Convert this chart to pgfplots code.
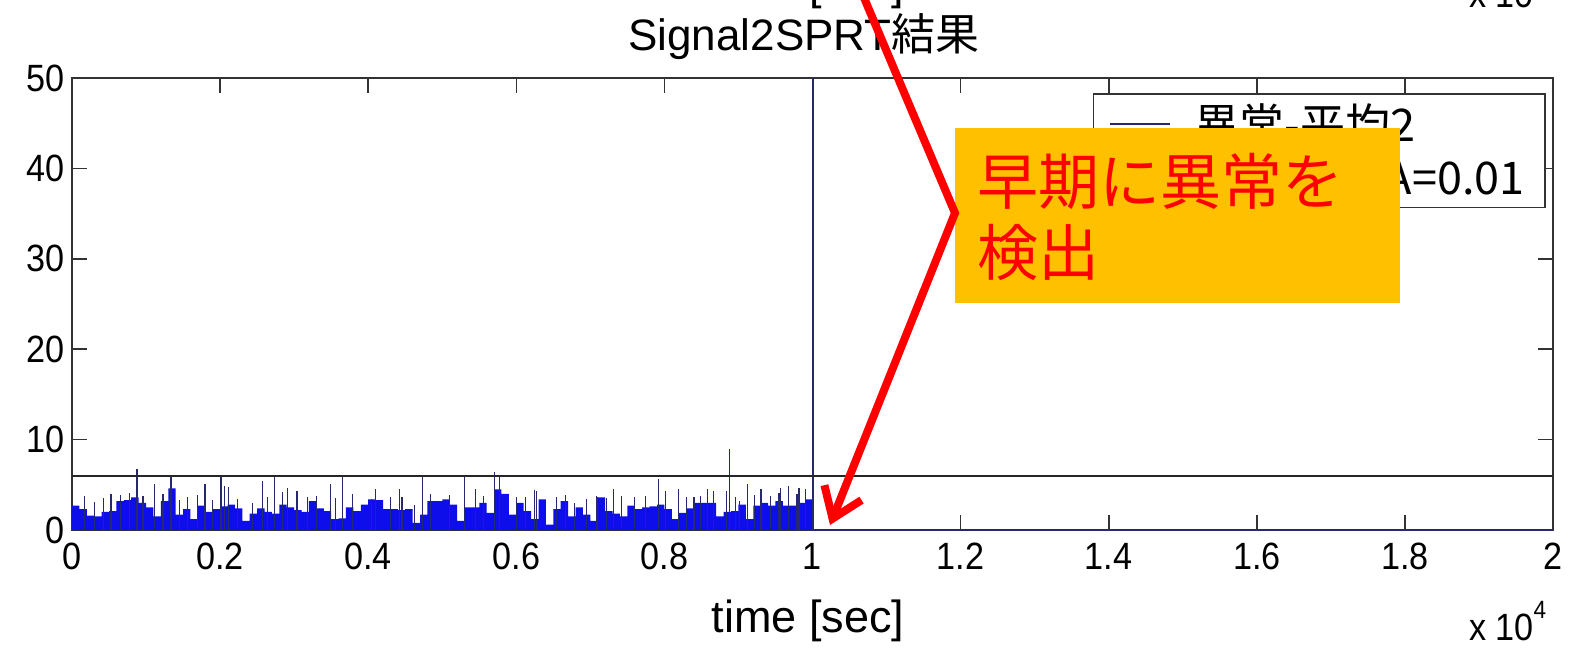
\documentclass[border=0pt]{standalone}
\usepackage{fontspec}
\setmainfont{Liberation Sans}[FakeStretch=0.9]
\newfontfamily\wide{Liberation Sans}
\newfontfamily\cjk{Noto Sans CJK JP}
\usepackage{pgfplots}
\pgfplotsset{compat=1.18}
\usetikzlibrary{arrows.meta}
\definecolor{sigblue}{RGB}{14,14,235}
\definecolor{navy}{RGB}{40,40,110}
\definecolor{boxorange}{RGB}{255,192,0}

\pgfplotstableread{
t y
0 2.7
100 2.3
200 1.6
300 1.5
400 2.0
500 2.1
600 3.2
700 3.3
800 3.6
900 3.0
1000 2.5
1100 1.5
1200 3.2
1300 4.6
1400 1.7
1500 2.3
1600 1.2
1700 2.7
1800 2.0
1900 2.3
2000 2.6
2100 2.8
2200 2.4
2300 1.0
2400 1.8
2500 2.4
2600 2.0
2700 1.8
2800 2.8
2900 2.5
3000 2.2
3100 2.0
3200 3.2
3300 2.4
3400 2.1
3500 1.2
3600 1.3
3700 2.5
3800 2.1
3900 2.8
4000 3.4
4100 3.3
4200 2.3
4300 2.3
4400 2.2
4500 2.3
4600 0.8
4700 1.7
4800 3.2
4900 3.2
5000 3.4
5100 2.8
5200 1.0
5300 2.5
5400 2.5
5500 3.0
5600 1.9
5700 4.5
5800 4.0
5900 1.7
6000 3.0
6100 2.1
6200 1.2
6300 3.4
6400 0.6
6500 2.3
6600 3.2
6700 1.5
6800 2.5
6900 1.7
7000 1.0
7100 3.6
7200 2.1
7300 1.8
7400 1.5
7500 2.7
7600 2.3
7700 2.5
7800 2.6
7900 2.8
8000 2.3
8100 1.2
8200 1.9
8300 2.4
8400 3.0
8500 3.0
8600 3.0
8700 1.5
8800 2.0
8900 2.1
9000 2.8
9100 1.2
9200 2.7
9300 3.0
9400 2.7
9500 3.2
9600 2.7
9700 2.7
9800 3.0
9900 3.4
10000 0
}\basedata

\pgfplotstableread{
t y
167 3.8
300 3.1
420 3.5
527 4.0
650 3.9
774 4.1
878 6.8
960 3.8
1112 5.1
1230 4.0
1337 6.0
1450 3.3
1560 3.6
1700 3.9
1796 5.1
1900 3.3
2012 6.0
2057 4.9
2114 4.8
2230 3.4
2440 3.0
2574 5.4
2640 3.6
2732 6.0
2844 4.2
2908 4.6
3038 4.3
3182 3.6
3300 3.8
3495 5.1
3560 3.5
3653 6.0
3788 4.0
4040 3.4
4096 4.5
4300 3.7
4424 4.5
4456 3.6
4620 2.8
4735 6.0
4840 4.0
5100 3.9
5299 6.0
5445 4.5
5560 3.8
5705 6.4
5772 6.0
5998 3.6
6120 3.7
6246 4.4
6268 4.3
6540 3.6
6660 3.9
6785 3.0
6950 3.4
7085 3.8
7100 3.6
7220 3.5
7315 4.5
7417 3.8
7600 3.6
7750 3.8
7920 5.6
8020 4.3
8192 4.5
8300 3.6
8400 3.6
8486 3.8
8579 4.5
8663 4.3
8840 4.3
8876 9.0
8960 3.7
9017 3.2
9127 5.1
9220 3.9
9304 4.5
9430 3.8
9547 4.1
9563 4.7
9680 4.9
9790 4.0
9818 4.7
9900 4.5
}\spikes

\begin{document}
\begin{tikzpicture}[x=0.5pt,y=0.5pt]
\useasboundingbox (0,0) rectangle (1570,649);
\begin{axis}[
  at={(36pt,59.5pt)}, anchor=south west,
  scale only axis, width=740.5pt, height=226pt,
  xmin=0, xmax=20000, ymin=0, ymax=50,
  xtick={0,2000,...,20000},
  xticklabels={0,0.2,0.4,0.6,0.8,1,1.2,1.4,1.6,1.8,2},
  scaled x ticks=false,
  ytick={0,10,...,50},
  tick align=inside, major tick length=7.5pt,
  tick style={black!80, line width=0.8pt},
  axis line style={black!80, line width=1pt},
  ticklabel style={font=\fontsize{19}{22}\selectfont},
  xticklabel style={yshift=-3pt},
  /pgf/number format/assume math mode=true,
  legend style={at={(axis description cs:0.995,0.967)}, anchor=north east,
    draw=black!80, line width=0.8pt, fill=white,
    font=\cjk\fontsize{22.5}{26}\selectfont,
    inner xsep=8pt, inner ysep=3pt, row sep=2pt,
    /tikz/every odd column/.append style={column sep=10pt}},
  legend cell align=left,
  legend image code/.code={\draw[#1] (0pt,0pt) -- (30pt,0pt);},
]
\addplot[const plot, fill=sigblue, draw=none, forget plot] table {\basedata} \closedcycle;
\addplot[ycomb, navy, line width=0.6pt, forget plot] table {\spikes};
\addplot[navy, line width=1pt, forget plot] coordinates {(10000,0) (10000,50)};
\addplot[navy, line width=0.7pt, forget plot] coordinates {(10000,0) (20000,0)};
\addplot[black!85, line width=1pt, forget plot] coordinates {(0,6) (20000,6)};
\addlegendimage{navy, line width=0.8pt}
\addlegendentry{異常-平均2}
\addlegendimage{black!85, line width=0.8pt}
\addlegendentry{しきい値 A=0.01}
\end{axis}
% title and labels
\node[anchor=base, font=\wide\fontsize{22}{25}\selectfont] at (804,598) {Signal2SPRT{\cjk 結果}};
\node[anchor=base, font=\wide\fontsize{22.5}{25}\selectfont] at (808,17) {time [sec]};
\node[anchor=base west, font=\fontsize{19}{22}\selectfont] at (1462,9) {x 10\raisebox{11pt}{\fontsize{12.5}{13}\selectfont 4}};
% remnants of the plot above (cropped)
\node[anchor=base, font=\wide\fontsize{22.5}{25}\selectfont] at (808,649) {time [sec]};
\node[anchor=base west, font=\fontsize{19}{22}\selectfont] at (1462,641) {x 10\raisebox{11pt}{\fontsize{12.5}{13}\selectfont 4}};
% annotation
\fill[boxorange] (955,346) rectangle (1400,521);
\node[anchor=west, text=red, font=\cjk\fontsize{30.5}{34}\selectfont, inner sep=0pt] at (977,468) {早期に異常を};
\node[anchor=west, text=red, font=\cjk\fontsize{30.5}{34}\selectfont, inner sep=0pt] at (977,397) {検出};
\draw[red, line width=4pt, line join=miter, -{Straight Barb[length=14pt,width=20pt]}] (862,656) -- (955,436) -- (830,124);
\end{tikzpicture}
\end{document}
